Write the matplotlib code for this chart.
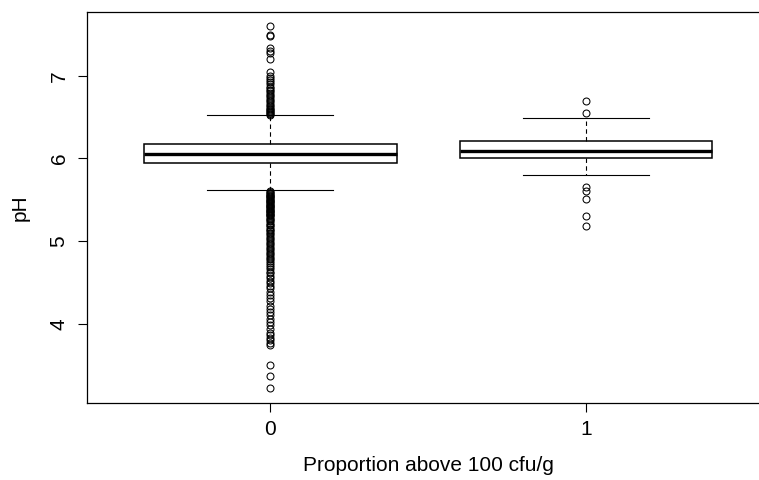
import matplotlib
matplotlib.use("Agg")
import matplotlib.pyplot as plt

plt.rcParams["font.family"] = ["Liberation Sans", "DejaVu Sans"]

# Groups on the x axis
groups = ["0", "1"]

# Box statistics per group (pH)
medians = [6.05, 6.09]
q1s = [5.95, 6.00]
q3s = [6.18, 6.21]
whisk_lo = [5.615, 5.795]
whisk_hi = [6.52, 6.495]

# Outlying pH values, group 0
outliers_0 = [
    7.60, 7.49, 7.48, 7.33, 7.30, 7.27, 7.20,
    7.04, 7.00, 6.97, 6.95, 6.92, 6.90, 6.87, 6.85, 6.83, 6.81, 6.79,
    6.77, 6.75, 6.73, 6.71, 6.69, 6.67, 6.65, 6.63, 6.61, 6.60, 6.58,
    6.57, 6.56, 6.55, 6.54, 6.53,
    5.60, 5.59, 5.58, 5.57, 5.56, 5.55, 5.54, 5.53, 5.52, 5.51, 5.50,
    5.49, 5.48, 5.47, 5.46, 5.45, 5.44, 5.43, 5.42, 5.41, 5.40, 5.39,
    5.38, 5.37, 5.36, 5.35, 5.34, 5.33, 5.32, 5.31, 5.30, 5.28, 5.27,
    5.25, 5.24, 5.22, 5.20, 5.19, 5.17, 5.15, 5.13, 5.12, 5.10, 5.08,
    5.06, 5.04, 5.02, 5.00, 4.98, 4.96, 4.94, 4.92, 4.90, 4.88, 4.86,
    4.84, 4.82, 4.80, 4.78, 4.76, 4.73, 4.71, 4.69, 4.66, 4.63, 4.61,
    4.58, 4.55, 4.52, 4.49, 4.46, 4.43, 4.39, 4.35, 4.31, 4.27, 4.22,
    4.18, 4.14, 4.10, 4.06, 4.02, 3.98, 3.94, 3.89, 3.86, 3.83, 3.80,
    3.77, 3.74, 3.50, 3.37, 3.22,
]
# Outlying pH values, group 1
outliers_1 = [6.70, 6.545, 5.65, 5.605, 5.51, 5.30, 5.18]

x_label = "Proportion above 100 cfu/g"
y_label = "pH"
y_ticks = [4, 5, 6, 7]

W, H = 759, 480
fig = plt.figure(figsize=(W / 100, H / 100), dpi=100)
left, right, top, bottom = 87.3, 769.0, 11.7, 402.7
ax = fig.add_axes([left / W, 1 - bottom / H, (right - left) / W, (bottom - top) / H])

stats = []
fliers_all = [outliers_0, outliers_1]
for i in range(len(groups)):
    stats.append(dict(med=medians[i], q1=q1s[i], q3=q3s[i],
                      whislo=whisk_lo[i], whishi=whisk_hi[i],
                      fliers=fliers_all[i]))

positions = list(range(len(groups)))
ax.bxp(stats, positions=positions, widths=0.8, capwidths=0.4,
       patch_artist=True, showfliers=True,
       boxprops=dict(facecolor="white", edgecolor="black", linewidth=1.1),
       medianprops=dict(color="black", linewidth=2.4, solid_capstyle="butt"),
       whiskerprops=dict(color="black", linewidth=0.8, linestyle=(0, (4, 3))),
       capprops=dict(color="black", linewidth=0.8),
       flierprops=dict(marker="o", markersize=5, markerfacecolor="none",
                       markeredgecolor="black", markeredgewidth=0.75,
                       linestyle="none"))

# R-style 4% padding on both axes
xmin, xmax = positions[0] - 0.5, positions[-1] + 0.5
xpad = 0.04 * (xmax - xmin)
ax.set_xlim(xmin - xpad, xmax + xpad)
all_vals = outliers_0 + outliers_1 + whisk_lo + whisk_hi
ymin, ymax = min(all_vals), max(all_vals)
ypad = 0.04 * (ymax - ymin)
ax.set_ylim(ymin - ypad, ymax + ypad)

ax.set_xticks(positions)
ax.set_xticklabels(groups)
ax.set_yticks(y_ticks)
ax.set_yticklabels([str(t) for t in y_ticks], rotation=90, va="center")

for s in ax.spines.values():
    s.set_linewidth(0.9)
    s.set_color("black")
ax.spines["right"].set_visible(False)

ax.tick_params(axis="both", direction="out", length=6.5, width=0.8,
               labelsize=15, colors="black")
ax.tick_params(axis="x", pad=6)
ax.tick_params(axis="y", pad=7)

ax.set_xlabel(x_label, fontsize=15, labelpad=12)
ax.set_ylabel(y_label, fontsize=15, labelpad=14)

fig.savefig("out.png", dpi=100)
